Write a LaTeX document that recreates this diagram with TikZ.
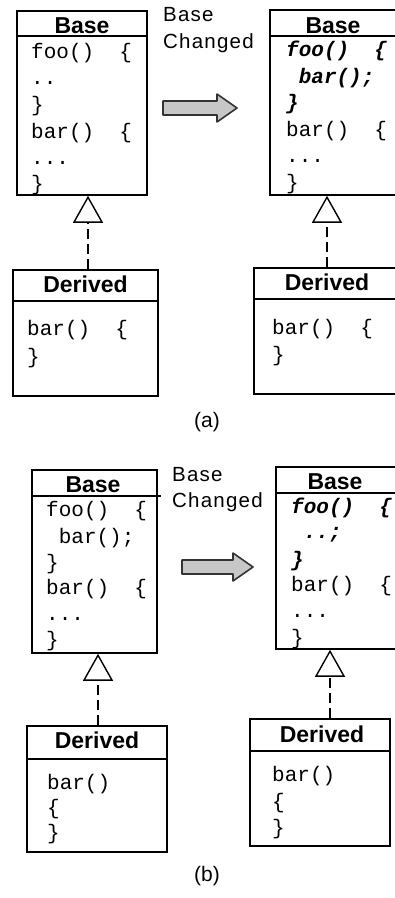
\documentclass[tikz,border=0pt]{standalone}
\usepackage{fontspec}
\setmainfont{Liberation Sans}
\setmonofont{Liberation Mono}
\newfontfamily\notefont[LetterSpace=6]{Liberation Sans}
\usetikzlibrary{arrows.meta}
% fixed-width blank of one monospaced cell
\newcommand\msp{\hspace*{0.6em}}

\tikzset{
  umlbox/.style={draw, line width=1.6pt, rectangle, inner sep=0pt},
  divider/.style={line width=1.4pt},
  title/.style={anchor=base, inner sep=0pt, font=\fontsize{23}{23}\selectfont\bfseries},
  code/.style={anchor=base west, inner sep=0pt, font=\fontsize{21}{21}\selectfont\ttfamily},
  newcode/.style={anchor=base west, inner sep=0pt, font=\fontsize{21}{21}\selectfont\ttfamily\bfseries\itshape},
  note/.style={anchor=base west, inner sep=0pt, align=left},
  caption/.style={inner sep=0pt, font=\fontsize{21}{21}\selectfont},
  inherit/.style={line width=1.4pt, dash pattern=on 10pt off 5pt,
    -{Triangle[open, length=27pt, width=30pt]}},
  fatarrow/.style={draw=black!80, line width=1.6pt, fill=black!22, line join=round}
}

\begin{document}
\begin{tikzpicture}[x=1pt, y=-1pt]
\useasboundingbox (0,0) rectangle (395,898);
\fill[white] (0,0) rectangle (395,898);
\clip (0,0) rectangle (395,898);

% ---------------- (a) ----------------
\node[umlbox, minimum width=130pt, minimum height=184pt] (bAL) at (82,103) {};
\draw[divider] (bAL.west |- 0,36) -- (bAL.east |- 0,36);
\node[title] (tAL) at (82,33) {Base};
\node[code] (aL1) at (31,58) {foo()\msp\msp\{};
\node[code] (aL2) at (31,84) {..};
\node[code] (aL3) at (31,111) {\}};
\node[code] (aL4) at (31,138) {bar()\msp\msp\{};
\node[code] (aL5) at (31,164) {...};
\node[code] (aL6) at (31,190) {\}};

\node[umlbox, minimum width=128pt, minimum height=185pt] (bAR) at (334,102.5) {};
\draw[divider] (bAR.west |- 0,36) -- (bAR.east |- 0,36);
\node[title] (tAR) at (333,33) {Base};
\node[newcode] (aR1) at (286,56) {foo()\msp\msp\{};
\node[newcode] (aR2) at (286,83) {\msp bar();};
\node[newcode] (aR3) at (286,109) {\}};
\node[code] (aR4) at (286,136) {bar()\msp\msp\{};
\node[code] (aR5) at (286,162) {...};
\node[code] (aR6) at (286,189) {\}};

\node[note, font=\fontsize{20.5}{27}\selectfont\notefont] (nA) at (163,48) {Base\\Changed};
\draw[fatarrow] (163,101) -- (217,101) -- (217,94) -- (237,108) -- (217,122)
  -- (217,115) -- (163,115) -- cycle;

\node[umlbox, minimum width=145pt, minimum height=126pt] (dAL) at (85.5,333) {};
\draw[divider] (dAL.west |- 0,301) -- (dAL.east |- 0,301);
\node[title] (sAL) at (85.5,292) {Derived};
\node[code] (eAL1) at (27,335) {bar()\msp\msp\{};
\node[code] (eAL2) at (27,363) {\}};

\node[umlbox, minimum width=146pt, minimum height=126pt] (dAR) at (327,331) {};
\draw[divider] (dAR.west |- 0,299) -- (dAR.east |- 0,299);
\node[title] (sAR) at (327,290) {Derived};
\node[code] (eAR1) at (272,334) {bar()\msp\msp\{};
\node[code] (eAR2) at (272,361) {\}};

\coordinate (jAL) at (88,0);
\coordinate (jAR) at (327,0);
\draw[inherit] (dAL.north -| jAL) -- (bAL.south -| jAL);
\draw[inherit] (dAR.north -| jAR) -- (bAR.south -| jAR);

\node[caption] (capA) at (207,422) {(a)};

% ---------------- (b) ----------------
\node[umlbox, minimum width=125pt, minimum height=183pt] (bBL) at (94.5,561.5) {};
\draw[divider] (bBL.west |- 0,496) -- ([xshift=3pt]bBL.east |- 0,496);
\node[title] (tBL) at (93,492) {Base};
\node[code] (bL1) at (46,516) {foo()\msp\msp\{};
\node[code] (bL2) at (46,543) {\msp bar();};
\node[code] (bL3) at (46,569) {\}};
\node[code] (bL4) at (46,594) {bar()\msp\msp\{};
\node[code] (bL5) at (46,620) {...};
\node[code] (bL6) at (46,646) {\}};

\node[umlbox, minimum width=122pt, minimum height=182pt] (bBR) at (337,558) {};
\draw[divider] (bBR.west |- 0,493) -- (bBR.east |- 0,493);
\node[title] (tBR) at (335,489) {Base};
\node[newcode] (bR1) at (291,513) {foo()\msp\msp\{};
\node[newcode] (bR2) at (291,538) {\msp..;};
\node[newcode] (bR3) at (291,566) {\}};
\node[code] (bR4) at (291,591) {bar()\msp\msp\{};
\node[code] (bR5) at (291,617) {...};
\node[code] (bR6) at (291,644) {\}};

\node[note, font=\fontsize{20.5}{26}\selectfont\notefont] (nB) at (172,507) {Base\\Changed};
\draw[fatarrow] (182,560) -- (233,560) -- (233,553) -- (253,567) -- (233,581)
  -- (233,574) -- (182,574) -- cycle;

\node[umlbox, minimum width=140pt, minimum height=126pt] (dBL) at (97,789) {};
\draw[divider] (dBL.west |- 0,759) -- (dBL.east |- 0,759);
\node[title] (sBL) at (97,748) {Derived};
\node[code] (eBL1) at (47,789) {bar()};
\node[code] (eBL2) at (47,814) {\{};
\node[code] (eBL3) at (47,839) {\}};

\node[umlbox, minimum width=140pt, minimum height=127pt] (dBR) at (320,782.5) {};
\draw[divider] (dBR.west |- 0,751) -- (dBR.east |- 0,751);
\node[title] (sBR) at (322,742) {Derived};
\node[code] (eBR1) at (272,781) {bar()};
\node[code] (eBR2) at (272,808) {\{};
\node[code] (eBR3) at (272,834) {\}};

\coordinate (jBL) at (98,0);
\coordinate (jBR) at (330,0);
\draw[inherit] (dBL.north -| jBL) -- (bBL.south -| jBL);
\draw[inherit] (dBR.north -| jBR) -- (bBR.south -| jBR);

\node[caption] (capB) at (207,876) {(b)};
\end{tikzpicture}
\end{document}
